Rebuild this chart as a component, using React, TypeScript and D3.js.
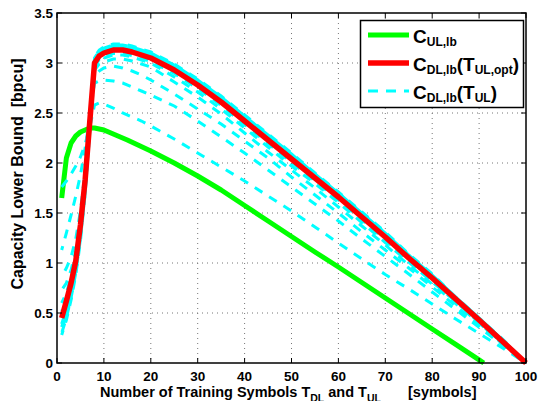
import React from 'react';
import * as d3 from 'd3';

const W = 539, H = 401;
const PL = 57, PR = 526, PT = 13, PB = 363;

const xTickValues = [0, 10, 20, 30, 40, 50, 60, 70, 80, 90, 100];
const xTickLabels = ['0', '10', '20', '30', '40', '50', '60', '70', '80', '90', '100'];
const yTickValues = [0, 0.5, 1, 1.5, 2, 2.5, 3, 3.5];
const yTickLabels = ['0', '0.5', '1', '1.5', '2', '2.5', '3', '3.5'];

// Uplink capacity lower bound vs T_UL
const ulT = [1, 2, 3, 4, 5, 6, 7, 8, 10, 12, 15, 20, 25, 30, 35, 40, 45, 50, 55, 60, 65, 70, 75, 80, 85, 90, 91];
const cUL = [1.65, 2.05, 2.2, 2.27, 2.31, 2.33, 2.35, 2.35, 2.33, 2.29, 2.23, 2.12, 2.0, 1.87, 1.73, 1.575, 1.42, 1.265, 1.11, 0.96, 0.805, 0.65, 0.495, 0.34, 0.186, 0.031, 0];

// Downlink curves vs T_DL
const dlT = [1, 2, 3, 4, 5, 6, 7, 8, 9, 10, 12, 14, 16, 18, 20, 25, 30, 35, 40, 45, 50, 55, 60, 65, 70, 75, 80, 85, 90, 95, 100];
const cDLopt = [0.45, 0.62, 0.8, 1.02, 1.38, 1.83, 2.42, 3.0, 3.07, 3.10, 3.13, 3.13, 3.11, 3.08, 3.05, 2.93, 2.78, 2.61, 2.42, 2.23, 2.04, 1.85, 1.66, 1.46, 1.26, 1.05, 0.85, 0.64, 0.43, 0.215, 0];

const cDL_T1 = [1.76, 1.82, 1.89, 1.97, 2.06, 2.19, 2.36, 2.58, 2.60, 2.59, 2.55, 2.50, 2.46, 2.42, 2.37, 2.24, 2.10, 1.96, 1.82, 1.67, 1.52, 1.36, 1.20, 1.04, 0.885, 0.74, 0.59, 0.44, 0.295, 0.15, 0];
const cDL_T2 = [1.13, 1.30, 1.48, 1.67, 1.88, 2.15, 2.46, 2.80, 2.82, 2.83, 2.82, 2.80, 2.76, 2.72, 2.68, 2.57, 2.42, 2.26, 2.10, 1.93, 1.76, 1.59, 1.42, 1.24, 1.065, 0.89, 0.71, 0.535, 0.357, 0.18, 0];
const cDL_T3 = [0.86, 0.95, 1.06, 1.24, 1.52, 1.92, 2.38, 2.88, 2.92, 2.95, 2.97, 2.95, 2.92, 2.88, 2.83, 2.69, 2.54, 2.39, 2.22, 2.05, 1.86, 1.68, 1.50, 1.31, 1.13, 0.95, 0.76, 0.57, 0.38, 0.19, 0];
const cDL_T4 = [0.73, 0.80, 0.93, 1.12, 1.44, 1.87, 2.39, 2.93, 2.99, 3.01, 3.04, 3.04, 3.02, 2.99, 2.96, 2.81, 2.66, 2.49, 2.30, 2.11, 1.93, 1.75, 1.56, 1.37, 1.18, 0.98, 0.79, 0.595, 0.40, 0.20, 0];
const cDL_T5 = [0.60, 0.70, 0.86, 1.09, 1.42, 1.86, 2.41, 2.95, 3.02, 3.05, 3.08, 3.08, 3.06, 3.03, 3.0, 2.86, 2.71, 2.54, 2.35, 2.16, 1.97, 1.795, 1.605, 1.405, 1.205, 1.01, 0.81, 0.615, 0.405, 0.19, 0];
const cDL_T6 = [0.52, 0.64, 0.83, 1.07, 1.40, 1.84, 2.42, 2.97, 3.035, 3.065, 3.095, 3.095, 3.075, 3.045, 3.015, 2.895, 2.745, 2.575, 2.385, 2.195, 2.005, 1.82, 1.63, 1.43, 1.23, 1.02, 0.82, 0.62, 0.41, 0.195, 0];
const cDL_T9 = [0.42, 0.57, 0.76, 1.0, 1.33, 1.78, 2.38, 3.01, 3.08, 3.11, 3.14, 3.14, 3.12, 3.09, 3.06, 2.94, 2.79, 2.62, 2.43, 2.24, 2.05, 1.86, 1.67, 1.47, 1.27, 1.06, 0.86, 0.64, 0.43, 0.22, 0];
const cDL_T10 = [0.39, 0.54, 0.73, 0.97, 1.30, 1.75, 2.36, 3.02, 3.09, 3.12, 3.15, 3.15, 3.13, 3.10, 3.07, 2.95, 2.80, 2.63, 2.44, 2.25, 2.06, 1.87, 1.68, 1.48, 1.28, 1.06, 0.86, 0.65, 0.44, 0.22, 0];
const cDL_T11 = [0.36, 0.51, 0.70, 0.94, 1.28, 1.73, 2.35, 3.03, 3.10, 3.13, 3.16, 3.16, 3.14, 3.11, 3.08, 2.96, 2.81, 2.64, 2.45, 2.26, 2.07, 1.88, 1.69, 1.49, 1.29, 1.07, 0.87, 0.65, 0.44, 0.23, 0];
const cDL_T12 = [0.33, 0.48, 0.67, 0.92, 1.26, 1.72, 2.34, 3.04, 3.11, 3.14, 3.17, 3.17, 3.15, 3.12, 3.09, 2.97, 2.82, 2.65, 2.46, 2.27, 2.08, 1.89, 1.70, 1.50, 1.30, 1.08, 0.88, 0.66, 0.45, 0.23, 0];
const cDL_T13 = [0.30, 0.45, 0.65, 0.90, 1.24, 1.70, 2.33, 3.05, 3.12, 3.15, 3.18, 3.18, 3.16, 3.13, 3.10, 2.98, 2.83, 2.66, 2.47, 2.28, 2.09, 1.89, 1.70, 1.50, 1.30, 1.08, 0.88, 0.66, 0.45, 0.23, 0];
const cDL_T14 = [0.28, 0.43, 0.63, 0.88, 1.22, 1.69, 2.32, 3.06, 3.13, 3.16, 3.19, 3.19, 3.17, 3.14, 3.11, 2.99, 2.84, 2.67, 2.48, 2.29, 2.10, 1.90, 1.71, 1.51, 1.31, 1.09, 0.89, 0.66, 0.45, 0.24, 0];

const cyanSeries = [cDL_T1, cDL_T2, cDL_T3, cDL_T4, cDL_T5, cDL_T6, cDL_T9, cDL_T10, cDL_T11, cDL_T12, cDL_T13, cDL_T14];

const FONT = "'Liberation Sans', Arial, Helvetica, sans-serif";

export default function App() {
  const x = d3.scaleLinear().domain([0, 100]).range([PL, PR]);
  const y = d3.scaleLinear().domain([0, 3.5]).range([PB, PT]);
  const line = d3.line<[number, number]>().x(d => x(d[0])).y(d => y(d[1]));
  const pts = (xs: number[], ys: number[]) => xs.map((v, i) => [v, ys[i]] as [number, number]);

  return (
    <svg width={W} height={H} style={{ position: 'absolute', left: 0, top: 0, background: '#fff' }}
      fontFamily={FONT}>
      <rect x={0} y={0} width={W} height={H} fill="#fff" />
      {/* grid */}
      {xTickValues.slice(1, -1).map(v => (
        <line key={'gx' + v} x1={x(v)} x2={x(v)} y1={PT} y2={PB} stroke="#777" strokeWidth={1} strokeDasharray="1,4" />
      ))}
      {yTickValues.slice(1, -1).map(v => (
        <line key={'gy' + v} x1={PL} x2={PR} y1={y(v)} y2={y(v)} stroke="#777" strokeWidth={1} strokeDasharray="1,4" />
      ))}
      {/* green */}
      <path d={line(pts(ulT, cUL)) || ''} fill="none" stroke="#00ff00" strokeWidth={5} strokeLinejoin="round" />
      {/* cyan */}
      {cyanSeries.map((s, i) => (
        <path key={'c' + i} d={line(pts(dlT, s)) || ''} fill="none" stroke="#00ffff" strokeWidth={3}
          strokeDasharray="9,8" strokeDashoffset={i * 5} />
      ))}
      {/* red */}
      <path d={line(pts(dlT, cDLopt)) || ''} fill="none" stroke="#ff0000" strokeWidth={5.5} strokeLinejoin="round" />
      {/* axes box */}
      <rect x={PL} y={PT} width={PR - PL} height={PB - PT} fill="none" stroke="#000" strokeWidth={1.5} />
      {/* ticks */}
      {xTickValues.map(v => (
        <g key={'tx' + v}>
          <line x1={x(v)} x2={x(v)} y1={PB} y2={PB - 5} stroke="#000" strokeWidth={1} />
          <line x1={x(v)} x2={x(v)} y1={PT} y2={PT + 5} stroke="#000" strokeWidth={1} />
        </g>
      ))}
      {yTickValues.map(v => (
        <g key={'ty' + v}>
          <line x1={PL} x2={PL + 5} y1={y(v)} y2={y(v)} stroke="#000" strokeWidth={1} />
          <line x1={PR} x2={PR - 5} y1={y(v)} y2={y(v)} stroke="#000" strokeWidth={1} />
        </g>
      ))}
      {xTickValues.map((v, i) => (
        <text key={'lx' + v} x={x(v)} y={381} textAnchor="middle" fontSize={13.5} fontWeight="bold">{xTickLabels[i]}</text>
      ))}
      {yTickValues.map((v, i) => (
        <text key={'ly' + v} x={53} y={y(v)} dy="0.35em" textAnchor="end" fontSize={13.5} fontWeight="bold">{yTickLabels[i]}</text>
      ))}
      {/* axis titles */}
      <text x={100} y={397} fontSize={14.5} fontWeight="bold">
        Number of Training Symbols T<tspan fontSize={10.5} dy={5}>DL</tspan><tspan dy={-5}> and T</tspan><tspan fontSize={10.5} dy={5}>UL</tspan><tspan dy={-5} dx={27}>[symbols]</tspan>
      </text>
      <text transform="translate(23,174) rotate(-90)" textAnchor="middle" fontSize={16} fontWeight="bold" style={{ whiteSpace: 'pre' }}>
        Capacity Lower Bound  [bpcu]
      </text>
      {/* legend */}
      <rect x={360.5} y={20.5} width={163} height={87} fill="#fff" stroke="#000" strokeWidth={1.5} />
      <line x1={368} x2={409} y1={35} y2={35} stroke="#00ff00" strokeWidth={5} />
      <line x1={368} x2={409} y1={63} y2={63} stroke="#ff0000" strokeWidth={5.5} />
      <line x1={368} x2={409} y1={91} y2={91} stroke="#00ffff" strokeWidth={3} strokeDasharray="10,8" />
      <text x={413} y={42.5} fontSize={19} fontWeight="bold">
        C<tspan fontSize={12} dy={3}>UL,lb</tspan>
      </text>
      <text x={413} y={70.5} fontSize={19} fontWeight="bold">
        C<tspan fontSize={12} dy={3}>DL,lb</tspan><tspan dy={-3}>(T</tspan><tspan fontSize={12} dy={3}>UL,opt</tspan><tspan dy={-3}>)</tspan>
      </text>
      <text x={413} y={98.5} fontSize={19} fontWeight="bold">
        C<tspan fontSize={12} dy={3}>DL,lb</tspan><tspan dy={-3}>(T</tspan><tspan fontSize={12} dy={3}>UL</tspan><tspan dy={-3}>)</tspan>
      </text>
    </svg>
  );
}
